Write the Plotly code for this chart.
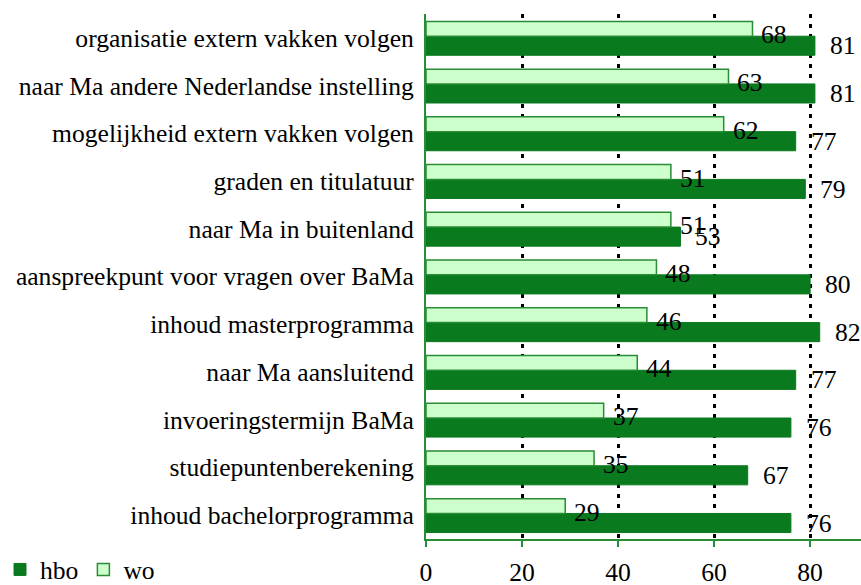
import plotly.graph_objects as go

# categorieen van boven naar beneden
categories = [
    'organisatie extern vakken volgen',
    'naar Ma andere Nederlandse instelling',
    'mogelijkheid extern vakken volgen',
    'graden en titulatuur',
    'naar Ma in buitenland',
    'aanspreekpunt voor vragen over BaMa',
    'inhoud masterprogramma',
    'naar Ma aansluitend',
    'invoeringstermijn BaMa',
    'studiepuntenberekening',
    'inhoud bachelorprogramma',
]
hbo = [81, 81, 77, 79, 53, 80, 82, 77, 76, 67, 76]
wo = [68, 63, 62, 51, 51, 48, 46, 44, 37, 35, 29]
x_ticks = [0, 20, 40, 60, 80]

dark_green = '#0a7a1e'
light_green = '#ccffcc'
line_green = '#2a8c34'
font = dict(family='Liberation Serif', size=25.6, color='black')

fig = go.Figure()
fig.add_trace(go.Bar(y=categories, x=hbo, name='hbo', orientation='h',
                     marker=dict(color=dark_green, line=dict(color=dark_green, width=1)),
                     width=0.40, offset=-0.035))
fig.add_trace(go.Bar(y=categories, x=wo, name='wo', orientation='h',
                     marker=dict(color=light_green, line=dict(color=line_green, width=1.5)),
                     width=0.31, offset=-0.345))

annotations = []
for cat, h, w in zip(categories, hbo, wo):
    annotations.append(dict(x=h, y=cat, text=str(h), showarrow=False, xanchor='left',
                            xshift=13, yshift=-8, font=font))
    annotations.append(dict(x=w, y=cat, text=str(w), showarrow=False, xanchor='left',
                            xshift=7, yshift=3, font=font))

fig.update_layout(
    width=861, height=585,
    margin=dict(l=426, r=0, t=14, b=46, autoexpand=False),
    barmode='overlay',
    plot_bgcolor='white', paper_bgcolor='white',
    font=font,
    annotations=annotations,
    showlegend=True,
    legend=dict(orientation='h', xref='container', yref='container', x=0, y=0.026,
                xanchor='left', yanchor='middle', font=font, traceorder='normal',
                itemwidth=30),
)
fig.update_xaxes(range=[0, 90.6], tickvals=x_ticks, showgrid=True, gridcolor='black',
                 griddash='4px,6px', gridwidth=2.5, zeroline=False, automargin=False,
                 showline=True, linecolor=line_green, linewidth=2,
                 ticks='outside', ticklen=6, tickwidth=2, tickcolor=line_green,
                 ticklabelstandoff=3)
fig.update_yaxes(range=[10.5, -0.5], showgrid=False, zeroline=False, automargin=False,
                 showline=True, linecolor=line_green, linewidth=2,
                 ticks='', ticklabelstandoff=5)

fig.write_html('out.html', config={'displayModeBar': False},
               post_script="document.body.style.margin='0';")
